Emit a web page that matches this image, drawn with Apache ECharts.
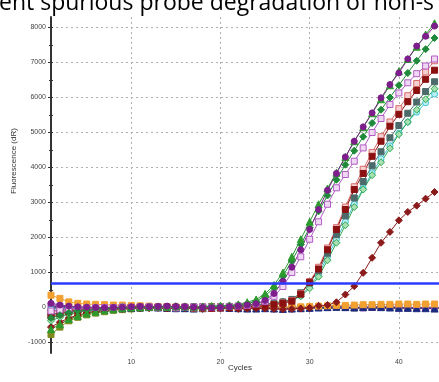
<!DOCTYPE html>
<html>
<head>
<meta charset="utf-8">
<script src="https://cdn.jsdelivr.net/npm/echarts@6/dist/echarts.min.js"></script>
<style>
  html, body { margin: 0; padding: 0; background: #fff; }
  #chart { width: 439px; height: 382px; }
</style>
</head>
<body>
<div id="chart"></div>
<script>
// cycles and tick values
var cycles = [1,2,3,4,5,6,7,8,9,10,11,12,13,14,15,16,17,18,19,20,21,22,23,24,25,26,27,28,29,30,31,32,33,34,35,36,37,38,39,40,41,42,43,44];
var cycleLabels = [10, 20, 30, 40];
var fluorLabels = [-1000, 0, 1000, 2000, 3000, 4000, 5000, 6000, 7000, 8000];
var fluorMinor = [-1000,-500,0,500,1000,1500,2000,2500,3000,3500,4000,4500,5000,5500,6000,6500,7000,7500,8000];
var threshold = 700;

// baseline-only wells
var orangeSquare = [350,260,160,120,100,90,80,70,70,60, 50,40,30,20,10,0,-10,-20,-20,-10, 0,10,20,30,30,20,20,10,20,30, 40,50,60,60,70,80,80,90,90,100, 100,90,100,100];
var navyTriangle = [20,30,10,0,-10,-20,-30,-30,-20,-10, 0,10,0,-10,-20,-20,-30,-20,-10,0, -10,-20,-30,-30,-20,-30,-40,-30,-20,-10, 0,10,20,10,0,10,20,10,0,-10, -10,-20,-20,-30];
var oliveSquare = [-770,-560,-380,-280,-210,-160,-120,-80,-60,-40, -20,0,10,20,10,0,10,20,30,20, 10,0,-10,0,10,20,10,0,-10,0, 10,20,10,0,-10,0,10,20,10,0, -10,0,10,0];
var violetSquare = [60,40,20,10,0,-10,-20,-10,0,10, 20,10,0,-10,0,10,20,10,0,-10, -20,-10,0,10,20,10,0,-10,-20,-10, 0,10,20,10,0,-10,0,10,20,10, 0,-10,0,10];

// late amplification
var redDiamond = [-560,-420,-300,-220,-160,-110,-80,-60,-40,-30, -20,-20,-10,-20,-30,-20,-30,-40,-30,-20, -30,-40,-30,-20,-30,-40,-50,-40,-30,-10, 50,70,150,370,610,990,1420,1850,2160,2490, 2730,2910,3110,3300];

// middle group
var cyanCircle = [-50,-30,-20,-10,0,10,0,10,20,10, 20,10,0,10,20,10,0,-10,0,10, 20,30,40,60,80,110,150,200,330,600, 950,1450,1950,2450,2950,3400,3850,4250,4620,4980, 5300,5580,5850,6100];
var greenDiamond = [-380,-280,-190,-140,-100,-70,-50,-30,-20,-10, 0,10,20,10,20,30,20,10,20,30, 40,50,60,80,100,130,170,220,320,550, 880,1350,1850,2350,2870,3370,3780,4150,4550,4950, 5300,5650,5950,6250];
var graySquare = [-200,-150,-100,-70,-50,-30,-20,-10,0,0, 10,0,10,0,-10,0,10,0,10,20, 30,40,50,70,90,120,160,230,420,700, 1050,1550,2080,2620,3130,3600,4050,4450,4850,5200, 5550,5870,6170,6450];
var salmonSquare = [-150,-100,-70,-50,-30,-20,-10,0,0,10, 10,0,10,20,10,0,-10,0,10,20, 20,30,40,50,60,90,130,200,400,740, 1150,1700,2280,2870,3450,3950,4430,4880,5300,5680, 6050,6400,6730,7050];
var redSquare = [-250,-180,-120,-90,-60,-40,-30,-20,-10,0, 0,10,0,-10,0,10,0,-10,-20,-10, 0,10,20,30,50,80,120,180,380,720, 1100,1650,2230,2800,3370,3830,4320,4750,5180,5520, 5880,6200,6520,6780];

// early group
var lavenderSquare = [-100,-70,-40,-30,-20,-10,0,0,10,0, 10,20,10,0,-10,0,10,20,10,20, 30,40,60,100,170,320,600,1000,1450,1950, 2450,2950,3420,3800,4180,4560,5000,5400,5800,6130, 6420,6680,6900,7100];
var darkGreenDiamond = [-300,-220,-150,-100,-70,-50,-30,-20,-10,0, 10,0,10,20,10,0,10,20,30,40, 50,70,110,180,330,560,900,1330,1800,2280, 2750,3200,3650,4080,4480,4880,5270,5650,6000,6350, 6700,7050,7380,7700];
var greenTriangle = [-620,-480,-330,-240,-170,-120,-80,-50,-20,0, 10,20,30,20,40,30,20,30,40,50, 60,90,150,230,390,640,1000,1450,1950,2450, 2950,3400,3850,4300,4750,5150,5550,5950,6350,6750, 7100,7450,7800,8120];
var purpleCircle = [120,70,40,20,10,0,-10,0,10,20, 30,20,30,40,30,20,10,0,-10,0, 20,40,70,110,200,400,750,1150,1650,2230, 2800,3350,3830,4300,4750,5160,5560,5990,6370,6700, 7100,7470,7750,8040];

function pairs(vals) {
    var out = [];
    for (var i = 0; i < vals.length; i++) out.push([cycles[i], vals[i]]);
    return out;
}
function well(vals, color, symbol, fill, size) {
    return {
        type: 'line',
        data: pairs(vals),
        symbol: symbol,
        symbolSize: size || 6,
        lineStyle: { color: color, width: 1 },
        itemStyle: { color: fill || color, borderColor: color, borderWidth: 1 },
        silent: true
    };
}

var chart = echarts.init(document.getElementById('chart'));
var tickStyle = { color: '#333', width: 1 };
var gridDots = { color: '#b0b0b0', type: [2, 3], width: 1 };
var option = {
    animation: false,
    backgroundColor: '#fff',
    grid: { left: 51, right: 0, top: 17, bottom: 29 },
    xAxis: [{
        type: 'value', min: 1, max: 44.5, position: 'bottom',
        axisLine: { lineStyle: { color: '#333', width: 1.5 } },
        axisTick: { customValues: cycleLabels, length: 3, lineStyle: tickStyle },
        axisLabel: { customValues: cycleLabels, fontSize: 7, color: '#444', margin: 6, fontFamily: 'Liberation Sans' },
        splitLine: { show: true, lineStyle: gridDots }
    }, {
        type: 'value', min: 1, max: 44.5, position: 'bottom',
        axisLine: { show: false },
        axisTick: { customValues: cycles, length: 2, lineStyle: tickStyle },
        axisLabel: { show: false }, splitLine: { show: false }
    }, {
        type: 'value', min: 1, max: 44.5, position: 'bottom',
        axisLine: { show: false },
        axisTick: { customValues: cycles, inside: true, length: 2, lineStyle: tickStyle },
        axisLabel: { show: false }, splitLine: { show: false }
    }],
    yAxis: [{
        type: 'value', min: -1300, max: 8300, position: 'left',
        axisLine: { show: true, lineStyle: { color: '#333', width: 2 } },
        axisTick: { show: true, customValues: fluorLabels, length: 3, lineStyle: tickStyle },
        axisLabel: {
            customValues: fluorLabels, fontSize: 7, color: '#444', margin: 5, fontFamily: 'Liberation Sans',
            formatter: function (v) { return String(v); }
        },
        splitLine: { show: true, lineStyle: gridDots }
    }, {
        type: 'value', min: -1300, max: 8300, position: 'left',
        axisLine: { show: false },
        axisTick: { show: true, customValues: fluorMinor, length: 2, lineStyle: tickStyle },
        axisLabel: { show: false }, splitLine: { show: false }
    }, {
        type: 'value', min: -1300, max: 8300, position: 'left',
        axisLine: { show: false },
        axisTick: { show: true, customValues: fluorMinor, inside: true, length: 2, lineStyle: tickStyle },
        axisLabel: { show: false }, splitLine: { show: false }
    }],
    graphic: [
        { type: 'text', style: { text: 'ent spurious probe degradation of non-s', x: -1, y: 3, font: '23px "Open Sans"', fill: '#000', verticalAlign: 'middle' } },
        { type: 'text', x: 14, y: 161, rotation: Math.PI / 2, style: { text: 'Fluorescence (dR)', font: '8px "Liberation Sans"', fill: '#333', align: 'center', verticalAlign: 'middle' } },
        { type: 'text', x: 240, y: 368, style: { text: 'Cycles', font: '8px "Liberation Sans"', fill: '#333', align: 'center', verticalAlign: 'middle' } }
    ],
    series: [
        well(oliveSquare, '#808a1c', 'rect'),
        well(violetSquare, '#9a50b0', 'rect'),
        well(navyTriangle, '#1c2a80', 'triangle', null, 7),
        well(orangeSquare, '#f2a030', 'rect'),
        well(redDiamond, '#8b1a1a', 'diamond', null, 7),
        well(cyanCircle, '#3cc4d4', 'circle', '#bdeff4'),
        well(greenDiamond, '#2ea84e', 'diamond', '#a8e0b4', 7),
        well(graySquare, '#4d6a6a', 'rect'),
        well(salmonSquare, '#d86868', 'rect', '#f6d0d0'),
        well(redSquare, '#8b1010', 'rect'),
        well(lavenderSquare, '#b05cc4', 'rect', '#f0d8f4'),
        well(darkGreenDiamond, '#1f8a3a', 'diamond', null, 7),
        well(greenTriangle, '#2c9a2c', 'triangle', null, 7),
        well(purpleCircle, '#7d1e8c', 'circle'),
        {
            type: 'line', data: [], silent: true,
            markLine: {
                symbol: 'none', silent: true, label: { show: false },
                lineStyle: { color: '#2b3cff', width: 2.5, type: 'solid' },
                data: [{ yAxis: threshold }]
            }
        }
    ]
};
chart.setOption(option);
</script>
</body>
</html>
